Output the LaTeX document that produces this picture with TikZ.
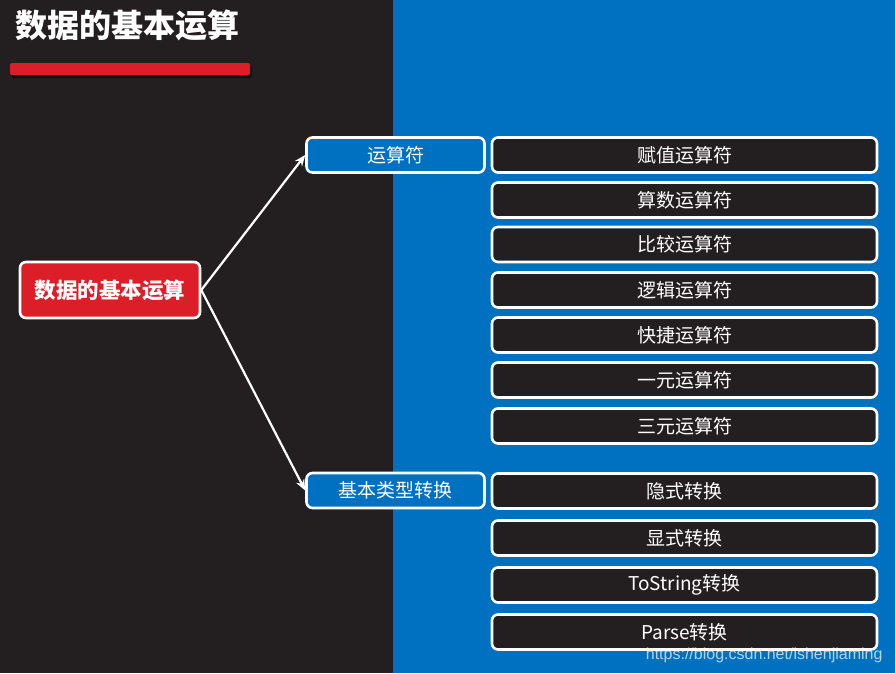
\documentclass[tikz,border=0pt]{standalone}
\usepackage{fontspec}
\setmainfont{Noto Sans CJK SC}
\newfontfamily\markfont{Liberation Sans}
\usetikzlibrary{arrows.meta}
\definecolor{darkbg}{HTML}{231F20}
\definecolor{bluebg}{HTML}{0070C0}
\definecolor{redmain}{HTML}{DC1E28}
\begin{document}
\begin{tikzpicture}[x=1pt, y=-1pt,
  box/.style={draw=white, line width=2.6pt, rounded corners=6pt, text=white,
    font=\fontsize{19}{19}\selectfont, inner sep=0pt, minimum height=35pt},
  item/.style={box, fill=darkbg, minimum width=385pt},
  cat/.style={box, fill=bluebg, minimum width=178pt},
  link/.style={white, line width=2.2pt, -{Stealth[length=11pt, width=9pt]}}]
  \useasboundingbox (0,0) rectangle (895,673);
  % background halves
  \fill[darkbg] (0,0) rectangle (393,673);
  \fill[bluebg] (393,0) rectangle (895,673);
  % title and bar
  \node[anchor=west, text=white, font=\fontsize{32}{32}\selectfont\bfseries] (title) at (12,25) {数据的基本运算};
  \fill[black, opacity=0.5, rounded corners=2pt] (12,66) rectangle (252,78);
  \fill[redmain, rounded corners=2pt] (10,63) rectangle (250,75);
  % root and categories
  \node[box, fill=redmain, minimum width=180pt, minimum height=56pt,
    font=\fontsize{21.5}{21.5}\selectfont\bfseries] (root) at (110,290) {数据的基本运算};
  \node[cat] (op) at (395.5,155) {运算符};
  \node[cat] (conv) at (395.5,490.5) {基本类型转换};
  % items
  \foreach \y/\t [count=\i] in {155/赋值运算符, 200/算数运算符, 244.5/比较运算符,
      290/逻辑运算符, 335/快捷运算符, 380/一元运算符, 426/三元运算符,
      491/隐式转换, 538/显式转换, 585/ToString转换, 632/Parse转换}
    \node[item] (r\i) at (684.5,\y) {\t};
  % connectors
  \draw[link] (root.east) -- (op.west);
  \draw[link] (root.east) -- (conv.west);
  \node[anchor=east, text=white, opacity=0.7, font=\markfont\fontsize{16}{16}\selectfont] (mark) at (886,655) {https://blog.csdn.net/ishenjiaming};
\end{tikzpicture}
\end{document}
